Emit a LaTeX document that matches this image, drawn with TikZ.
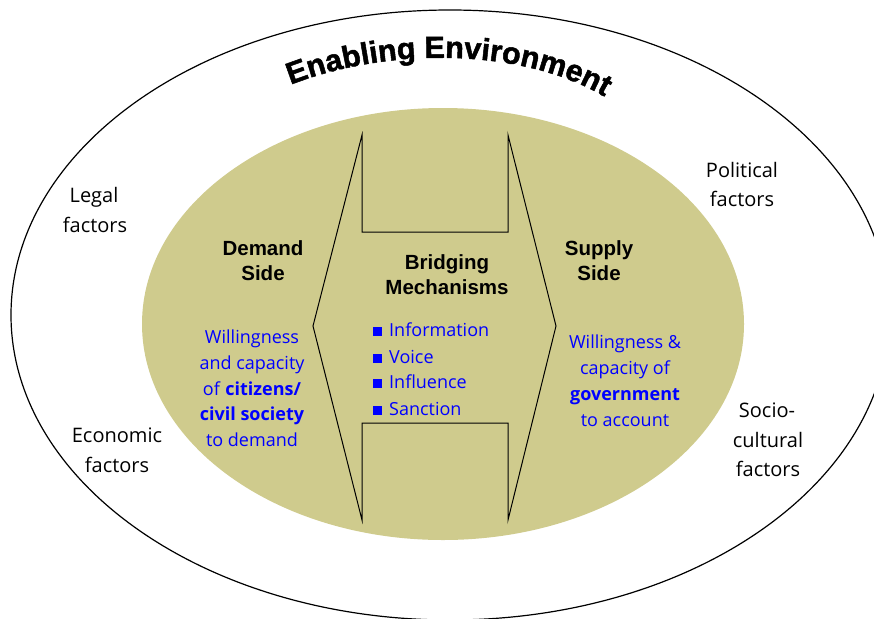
\documentclass[tikz,border=0pt]{standalone}
\usepackage{fontspec}
\usetikzlibrary{decorations.text}
\newfontfamily\comicf{Open Sans}
\newfontfamily\arialf{Liberation Sans}
\newfontfamily\titlef{Liberation Sans}[BoldFeatures={FakeBold=1.6}]
\definecolor{innerfill}{RGB}{207,203,141}
\definecolor{txtblue}{RGB}{0,0,255}
\begin{document}
\begin{tikzpicture}[x=1pt,y=-1pt,
  fac/.style={font=\comicf\fontsize{20}{20}\selectfont, anchor=base, inner sep=0pt},
  head/.style={font=\arialf\bfseries\fontsize{20.5}{20.5}\selectfont, anchor=base, inner sep=0pt},
  blu/.style={font=\comicf\fontsize{18}{18}\selectfont, text=txtblue, anchor=base, inner sep=0pt},
  bul/.style={blu, anchor=base west},
  outline/.style={line width=1.2pt, draw=black}]
\useasboundingbox (0,0) rectangle (874,618);
% outer enabling environment
\draw[outline] (450,315) ellipse [x radius=439pt, y radius=305pt];
% inner ellipse
\fill[innerfill] (443,324) ellipse [x radius=301pt, y radius=216pt];
% bridging shape
\coordinate (tl) at (362,135);
\coordinate (lv) at (313,326);
\coordinate (bl) at (362,520);
\coordinate (blr) at (362,423);
\coordinate (brr) at (508,423);
\coordinate (br) at (508,520);
\coordinate (rv) at (556,326);
\coordinate (tr) at (508,135);
\coordinate (trr) at (508,232);
\coordinate (tlr) at (362,232);
\draw[line width=1pt, line join=miter] (tl) -- (lv) -- (bl) -- (blr) -- (brr) -- (br) -- (rv) -- (tr) -- (trr) -- (tlr) -- cycle;
% title along arc
\coordinate (ta) at (278,90);
\coordinate (tb) at (380,45);
\coordinate (tc) at (530,45);
\coordinate (td) at (616,104);
\path[decorate, decoration={text along path, text align=center,
  text={|\titlef\bfseries\fontsize{30.5}{30.5}\selectfont|Enabling Environment}}]
  (ta) .. controls (tb) and (tc) .. (td);
% factors
\node[fac] (legal1) at (94,202) {Legal};
\node[fac] (legal2) at (95,232) {factors};
\node[fac] (eco1) at (117,442) {Economic};
\node[fac] (eco2) at (117,472) {factors};
\node[fac] (pol1) at (742,177) {Political};
\node[fac] (pol2) at (742,206) {factors};
\node[fac] (soc1) at (767,417) {Socio-};
\node[fac] (soc2) at (768,447) {cultural};
\node[fac] (soc3) at (768,476) {factors};
% headers
\node[head] (dem1) at (263,255) {Demand};
\node[head] (dem2) at (263,280) {Side};
\node[head] (sup1) at (599,255) {Supply};
\node[head] (sup2) at (599,280) {Side};
\node[head] (bri1) at (447,269) {Bridging};
\node[head] (bri2) at (447,294) {Mechanisms};
% demand text
\node[blu] (dw1) at (252,343) {Willingness};
\node[blu] (dw2) at (252,369) {and capacity};
\node[blu] (dw3) at (252,395) {of \textbf{citizens/}};
\node[blu] (dw4) at (252,420) {\textbf{civil society}};
\node[blu] (dw5) at (252,446) {to demand};
% supply text
\node[blu] (sw1) at (625,348) {Willingness \&};
\node[blu] (sw2) at (625,374) {capacity of};
\node[blu] (sw3) at (625,400) {\textbf{government}};
\node[blu] (sw4) at (625,426) {to account};
% bullets
\node[bul] (b1) at (373,336) {\rule{9pt}{9pt}\hspace{7pt}Information};
\node[bul] (b2) at (373,363) {\rule{9pt}{9pt}\hspace{7pt}Voice};
\node[bul] (b3) at (373,388) {\rule{9pt}{9pt}\hspace{7pt}Influence};
\node[bul] (b4) at (373,415) {\rule{9pt}{9pt}\hspace{7pt}Sanction};
\end{tikzpicture}
\end{document}
